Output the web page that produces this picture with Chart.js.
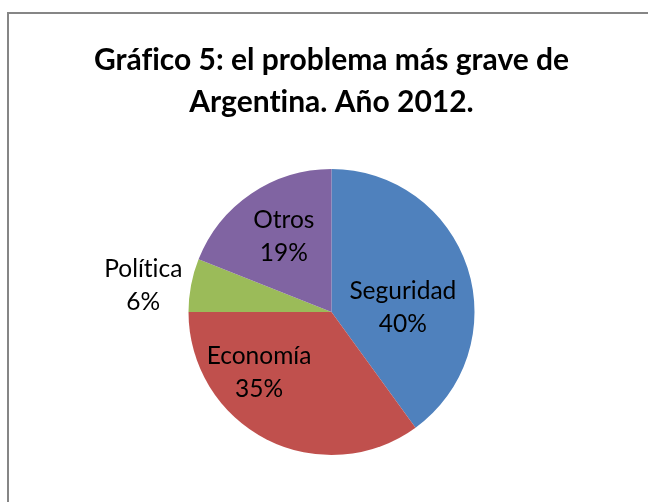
<!DOCTYPE html>
<html>
<head>
<meta charset="utf-8">
<script src="https://cdn.jsdelivr.net/npm/chart.js@4"></script>
<style>
  html, body { margin: 0; padding: 0; background: #fff; overflow: hidden; }
  canvas { display: block; }
</style>
</head>
<body>
<canvas id="pieChart" width="648" height="502"></canvas>
<script>
const titulo = ['Gráfico 5: el problema más grave de', 'Argentina. Año 2012.'];
const categorias = ['Seguridad', 'Economía', 'Política', 'Otros'];
const valores = [40, 35, 6, 19];
const colores = ['#4F81BD', '#C0504D', '#9BBB59', '#8064A2'];

// where each label sits: fraction of the radius and angle shift (degrees) from the slice middle
const posEtiquetas = [
    { r: 0.50, da: 14.4 },
    { r: 0.66, da: 23.2 },
    { r: 1.33, da: -2.6 },
    { r: 0.63, da: 2.2 }
];

// grey frame of the chart object (only top and left edges are visible)
const marco = {
    id: 'marco',
    beforeDraw(chart) {
        const ctx = chart.ctx;
        ctx.textRendering = 'optimizeSpeed';
        ctx.save();
        ctx.strokeStyle = '#868686';
        ctx.lineWidth = 2;
        ctx.beginPath();
        ctx.moveTo(8, chart.height);
        ctx.lineTo(8, 13);
        ctx.lineTo(chart.width, 13);
        ctx.stroke();
        ctx.restore();
    }
};

const etiquetasPlugin = {
    id: 'etiquetas',
    afterDatasetsDraw(chart) {
        const ctx = chart.ctx;
        const meta = chart.getDatasetMeta(0);
        const total = valores.reduce((a, b) => a + b, 0);
        ctx.save();
        ctx.textRendering = 'optimizeSpeed';
        ctx.font = '24.5px Lato';
        ctx.fillStyle = '#000';
        ctx.textAlign = 'center';
        ctx.textBaseline = 'middle';
        meta.data.forEach((arc, i) => {
            const p = arc.getProps(['x', 'y', 'startAngle', 'endAngle', 'outerRadius'], true);
            const mid = (p.startAngle + p.endAngle) / 2 + posEtiquetas[i].da * Math.PI / 180;
            const rr = p.outerRadius * posEtiquetas[i].r;
            const x = p.x + Math.cos(mid) * rr;
            const y = p.y + Math.sin(mid) * rr;
            const pct = Math.round(valores[i] / total * 100) + '%';
            ctx.fillText(categorias[i], x, y - 16);
            ctx.fillText(pct, x, y + 17);
        });
        ctx.restore();
    }
};

new Chart(document.getElementById('pieChart').getContext('2d'), {
    type: 'pie',
    data: {
        labels: categorias,
        datasets: [{
            data: valores,
            backgroundColor: colores,
            borderWidth: 0
        }]
    },
    options: {
        responsive: false,
        animation: false,
        layout: { padding: { left: 15, right: 0, top: 0, bottom: 47 } },
        plugins: {
            legend: { display: false },
            tooltip: { enabled: false },
            title: {
                display: true,
                text: titulo,
                color: '#000',
                font: { family: 'Lato', size: 30, weight: 'bold', lineHeight: 1.4 },
                padding: { top: 39, bottom: 46 }
            }
        }
    },
    plugins: [marco, etiquetasPlugin]
});
</script>
</body>
</html>
